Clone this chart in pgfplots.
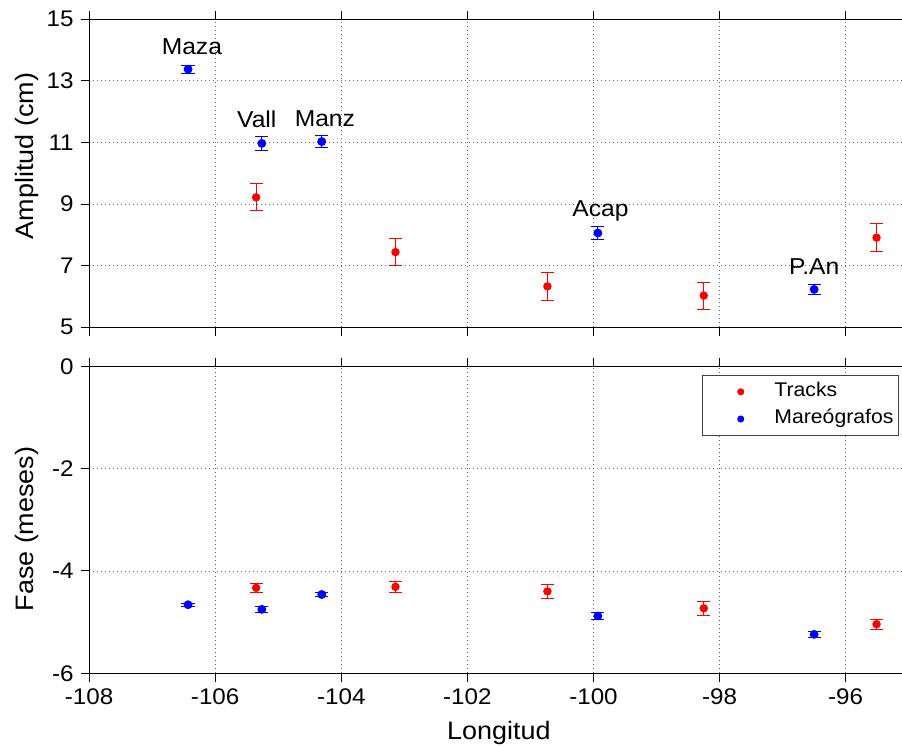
\documentclass[border=0pt]{standalone}
\usepackage{fontspec}
\setmainfont{Liberation Sans}[FakeStretch=1.07]
\usepackage{pgfplots}
\pgfplotsset{compat=1.18}

\pgfplotsset{
  panel/.style={
    scale only axis, width=409.8pt,
    xmin=-108, xmax=-95,
    xtick={-108,-106,...,-96},
    tick align=outside, major tick length=4.2pt,
    grid=major,
    grid style={gray!80!black, line width=0.4pt, dash pattern=on 0.5pt off 1.5pt},
    axis line style={line width=0.5pt, black},
    every tick/.style={line width=0.5pt, black},
    ticklabel style={font=\fontsize{11.3}{13}\selectfont},
    /pgf/number format/assume math mode=true,
    label style={font=\fontsize{12.6}{15}\selectfont},
  },
  trk/.style={only marks, mark=*, mark size=1.9pt, color=red,
    error bars/.cd, y dir=both, y explicit,
    error bar style={red, line width=0.5pt},
    error mark options={rotate=90, red, mark size=3.2pt, line width=0.5pt},
    /pgfplots/.cd},
  mar/.style={only marks, mark=*, mark size=2pt, color=blue,
    error bars/.cd, y dir=both, y explicit,
    error bar style={blue, line width=0.5pt},
    error mark options={rotate=90, blue, mark size=3.3pt, line width=0.5pt},
    /pgfplots/.cd},
  dotleg/.style={legend image code/.code={\path (0pt,0pt) (30.4pt,0pt); \fill[##1] (16.4pt,0pt) circle (1.5pt);}},
}

\begin{document}
\begin{tikzpicture}
% Amplitud
\begin{axis}[panel, name=top, at={(0pt,0pt)}, anchor=north west,
  height=154pt, ymin=5, ymax=15, ytick={5,7,...,15},
  xticklabels={},
  ylabel={Amplitud (cm)},
  ylabel style={at={([xshift=-27.9pt]axis description cs:0,0.556)}, anchor=base},
]
\addplot[trk] coordinates {
  (-105.35,9.22) +- (0,0.44)
  (-103.14,7.44) +- (0,0.43)
  (-100.73,6.33) +- (0,0.46)
  (-98.25,6.03)  +- (0,0.44)
  (-95.51,7.91)  +- (0,0.46)
};
\addplot[mar] coordinates {
  (-106.43,13.38) +- (0,0.13)
  (-105.26,10.97) +- (0,0.22)
  (-104.31,11.03) +- (0,0.19)
  (-99.93,8.06)   +- (0,0.20)
  (-96.50,6.23)   +- (0,0.17)
};
\begin{scope}[every node/.style={anchor=base, inner sep=0pt, font=\fontsize{11.5}{13}\selectfont}]
\node at (axis cs:-106.37,13.87) {Maza};
\node at (axis cs:-105.34,11.48) {Vall};
\node at (axis cs:-104.26,11.51) {Manz};
\node at (axis cs:-99.89,8.59) {Acap};
\node at (axis cs:-96.50,6.73) {P.An};
\end{scope}
\end{axis}

% Fase
\begin{axis}[panel, at={(0pt,-173.5pt)}, anchor=north west,
  height=153.5pt, ymin=-6, ymax=0, ytick={-6,-4,-2,0},
  xlabel={Longitud},
  xlabel style={at={([yshift=-33.3pt]axis description cs:0.5,0)}, anchor=base},
  ylabel={Fase (meses)},
  ylabel style={at={([xshift=-27.9pt]axis description cs:0,0.47)}, anchor=base},
  legend style={at={(rel axis cs:1,1)}, anchor=north east, xshift=-4.9pt, yshift=-4.35pt,
    font=\fontsize{9.9}{11}\selectfont, draw=black!75, line width=0.5pt,
    inner xsep=2.5pt, inner ysep=3.4pt, row sep=4.1pt, column sep=2.6pt,
    nodes={inner sep=0pt, text height=7.2pt, text depth=2.3pt}},
  legend cell align=left,
]
\addplot[dotleg, trk] coordinates {
  (-105.35,-4.33) +- (0,0.09)
  (-103.14,-4.31) +- (0,0.11)
  (-100.73,-4.40) +- (0,0.14)
  (-98.25,-4.73)  +- (0,0.14)
  (-95.51,-5.04)  +- (0,0.10)
};
\addlegendentry{Tracks}
\addplot[dotleg, mar] coordinates {
  (-106.43,-4.66) +- (0,0.03)
  (-105.26,-4.75) +- (0,0.06)
  (-104.31,-4.46) +- (0,0.045)
  (-99.93,-4.88)  +- (0,0.06)
  (-96.50,-5.24)  +- (0,0.06)
};
\addlegendentry{Mareógrafos}
\end{axis}

\pgfresetboundingbox
\path[use as bounding box] (-44.55pt,9.65pt) rectangle (406.45pt,-363.85pt);
\end{tikzpicture}
\end{document}
